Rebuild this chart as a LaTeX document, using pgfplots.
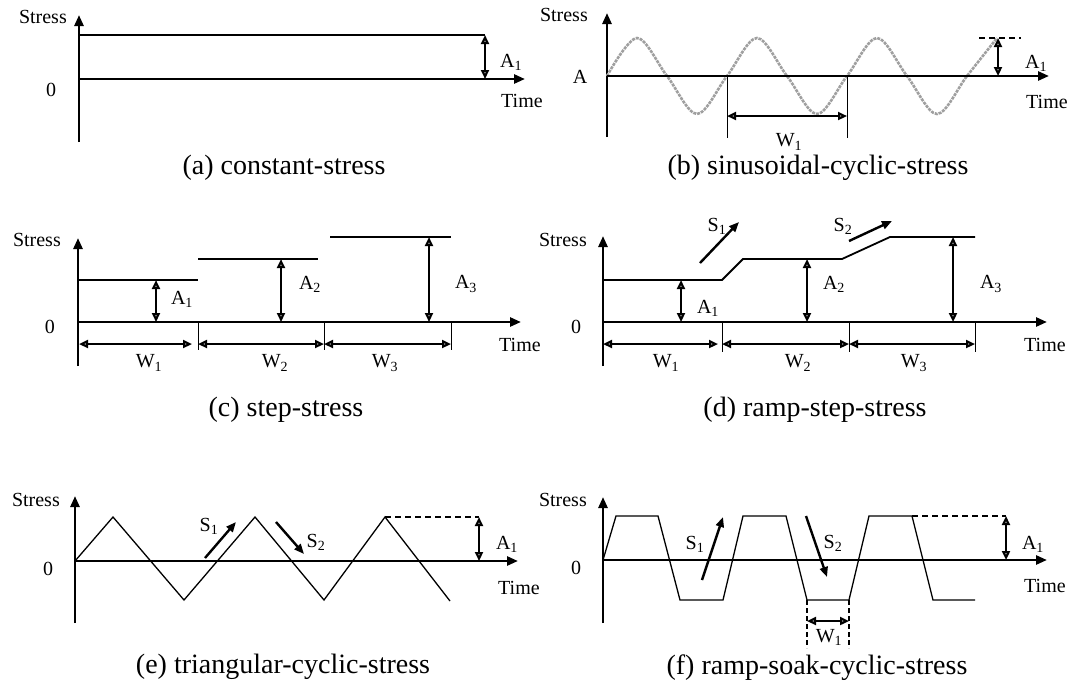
\documentclass[border=0pt]{standalone}
\usepackage{fontspec}
\setmainfont{Liberation Serif}
\usepackage{pgfplots}
\pgfplotsset{compat=1.18}
\usetikzlibrary{arrows.meta}
\newcommand\lab{\fontsize{20}{24}\selectfont}
\newcommand\capfont{\fontsize{28}{32}\selectfont}
\tikzset{
  ax/.style={line width=2.6pt, -{Triangle[length=11pt,width=9pt]}},
  darr/.style={line width=2.2pt, >={Triangle[open,length=9pt,width=8pt]}, <->},
  sarr/.style={line width=2.4pt, -{Triangle[length=10pt,width=8pt]}},
  prof/.style={line width=1.8pt},
  thin/.style={line width=1.3pt},
  dsh/.style={line width=2pt, dash pattern=on 6pt off 4pt},
  tick/.style={line width=2pt},
  lb/.style={inner sep=0pt, font=\lab},
}
\begin{document}
\begin{tikzpicture}
\useasboundingbox (0,0) rectangle (1072pt,681pt);
\begin{axis}[at={(0,0)}, anchor=south west, scale only axis,
  width=1072pt, height=681pt, xmin=0, xmax=1072, ymin=0, ymax=681,
  y dir=reverse, hide axis, clip=false, no markers]
% ---------------- (a) constant-stress
\addplot[ax] coordinates {(79,142) (79,15)};
\addplot[ax] coordinates {(79,79) (525,79)};
\addplot[prof] coordinates {(79,35) (485,35)};
\addplot[darr] coordinates {(485,35) (485,79)};
\node[lb, anchor=east] at (67,17) {Stress};
\node[lb] at (51,90) {0};
\node[lb, anchor=west] at (501,101) {Time};
\node[lb, anchor=west] at (500,62) {A\textsubscript{1}};
\node[inner sep=0pt, font=\capfont] at (284,168) {(a) constant-stress};
% ---------------- (b) sinusoidal-cyclic-stress
\addplot[ax] coordinates {(607,137) (607,13)};
\addplot[gray!75, line width=2.6pt, dash pattern=on 3pt off 1pt, smooth, tension=0.55] coordinates {
 (607,76) (637,38) (667,76) (697,114) (727,76) (757,38) (787,76) (817,114)
 (847,76) (877,38) (907,76) (937,114) (967,76) (997,38)};
\addplot[ax] coordinates {(607,76) (1049,76)};
\addplot[tick] coordinates {(727,76) (727,138)};
\addplot[tick] coordinates {(847,76) (847,138)};
\addplot[darr] coordinates {(727,116) (847,116)};
\addplot[dsh] coordinates {(979,38) (1021,38)};
\addplot[darr] coordinates {(998,38) (998,76)};
\node[lb, anchor=east] at (588,15) {Stress};
\node[lb] at (580,77) {A};
\node[lb, anchor=west] at (1026,102) {Time};
\node[lb, anchor=west] at (1025,63) {A\textsubscript{1}};
\node[lb] at (789,142) {W\textsubscript{1}};
\node[inner sep=0pt, font=\capfont] at (818,168) {(b) sinusoidal-cyclic-stress};
% ---------------- (c) step-stress
\addplot[ax] coordinates {(78,366) (78,238)};
\addplot[ax] coordinates {(78,322) (521,322)};
\addplot[prof] coordinates {(78,280) (198,280)};
\addplot[prof] coordinates {(198,259) (318,259)};
\addplot[prof] coordinates {(330,237) (451,237)};
\addplot[darr] coordinates {(156,280) (156,322)};
\addplot[darr] coordinates {(281,259) (281,322)};
\addplot[darr] coordinates {(429,237) (429,322)};
\addplot[tick] coordinates {(198,322) (198,350)};
\addplot[tick] coordinates {(324,322) (324,350)};
\addplot[tick] coordinates {(451,322) (451,350)};
\addplot[darr] coordinates {(79,344) (192,344)};
\addplot[darr] coordinates {(198,344) (324,344)};
\addplot[darr] coordinates {(324,344) (451,344)};
\node[lb, anchor=east] at (61,240) {Stress};
\node[lb] at (50,327) {0};
\node[lb, anchor=west] at (499,345) {Time};
\node[lb] at (182,299) {A\textsubscript{1}};
\node[lb] at (310,284) {A\textsubscript{2}};
\node[lb] at (466,284) {A\textsubscript{3}};
\node[lb] at (149,363) {W\textsubscript{1}};
\node[lb] at (275,363) {W\textsubscript{2}};
\node[lb] at (385,363) {W\textsubscript{3}};
\node[inner sep=0pt, font=\capfont] at (286,410) {(c) step-stress};
% ---------------- (d) ramp-step-stress
\addplot[ax] coordinates {(603,366) (603,236)};
\addplot[ax] coordinates {(603,322) (1047,322)};
\addplot[prof] coordinates {(603,280) (722,280) (743,259) (842,259) (890,237) (975,237)};
\addplot[darr] coordinates {(681,280) (681,322)};
\addplot[darr] coordinates {(807,259) (807,322)};
\addplot[darr] coordinates {(953,237) (953,322)};
\addplot[tick] coordinates {(722,322) (722,352)};
\addplot[tick] coordinates {(849,322) (849,352)};
\addplot[tick] coordinates {(975,322) (975,352)};
\addplot[darr] coordinates {(603,344) (718,344)};
\addplot[darr] coordinates {(722,344) (849,344)};
\addplot[darr] coordinates {(849,344) (975,344)};
\addplot[sarr] coordinates {(700,263) (739,222)};
\addplot[sarr] coordinates {(849,241) (892,221)};
\node[lb, anchor=east] at (587,240) {Stress};
\node[lb] at (576,327) {0};
\node[lb, anchor=west] at (1024,345) {Time};
\node[lb] at (708,308) {A\textsubscript{1}};
\node[lb] at (834,284) {A\textsubscript{2}};
\node[lb] at (991,284) {A\textsubscript{3}};
\node[lb] at (666,363) {W\textsubscript{1}};
\node[lb] at (798,363) {W\textsubscript{2}};
\node[lb] at (914,363) {W\textsubscript{3}};
\node[lb] at (717,226) {S\textsubscript{1}};
\node[lb] at (843,226) {S\textsubscript{2}};
\node[inner sep=0pt, font=\capfont] at (815,410) {(d) ramp-step-stress};
% ---------------- (e) triangular-cyclic-stress
\addplot[ax] coordinates {(75,623) (75,496)};
\addplot[ax] coordinates {(75,561) (518,561)};
\addplot[thin] coordinates {(75,561) (113,517) (184,600) (255,517) (324,600) (385,517) (450,601)};
\addplot[dsh] coordinates {(385,517) (479,517)};
\addplot[darr] coordinates {(479,517) (479,561)};
\addplot[sarr] coordinates {(205,558) (236,522)};
\addplot[sarr] coordinates {(276,522) (304,554)};
\node[lb, anchor=east] at (60,500) {Stress};
\node[lb] at (48,569) {0};
\node[lb, anchor=west] at (498,588) {Time};
\node[lb] at (507,544) {A\textsubscript{1}};
\node[lb] at (209,526) {S\textsubscript{1}};
\node[lb] at (316,542) {S\textsubscript{2}};
\node[inner sep=0pt, font=\capfont] at (283,667) {(e) triangular-cyclic-stress};
% ---------------- (f) ramp-soak-cyclic-stress
\addplot[ax] coordinates {(603,623) (603,497)};
\addplot[ax] coordinates {(603,560) (1047,560)};
\addplot[thin] coordinates {(603,560) (616,516) (658,516) (680,600) (723,600) (743,516) (786,516)
 (807,600) (849,600) (869,516) (912,516) (933,600) (975,600)};
\addplot[dsh] coordinates {(912,516) (1006,516)};
\addplot[darr] coordinates {(1006,516) (1006,560)};
\addplot[sarr] coordinates {(702,580) (723,517)};
\addplot[sarr] coordinates {(806,516) (827,577)};
\addplot[line width=1.8pt, dash pattern=on 5pt off 3pt] coordinates {(807,600) (807,648)};
\addplot[line width=1.8pt, dash pattern=on 5pt off 3pt] coordinates {(849,600) (849,648)};
\addplot[darr] coordinates {(807,621) (849,621)};
\node[lb, anchor=east] at (587,500) {Stress};
\node[lb] at (576,568) {0};
\node[lb, anchor=west] at (1024,586) {Time};
\node[lb] at (1033,544) {A\textsubscript{1}};
\node[lb] at (695,544) {S\textsubscript{1}};
\node[lb] at (833,543) {S\textsubscript{2}};
\node[lb] at (829,637) {W\textsubscript{1}};
\node[inner sep=0pt, font=\capfont] at (817,668) {(f) ramp-soak-cyclic-stress};
\end{axis}
\end{tikzpicture}
\end{document}
